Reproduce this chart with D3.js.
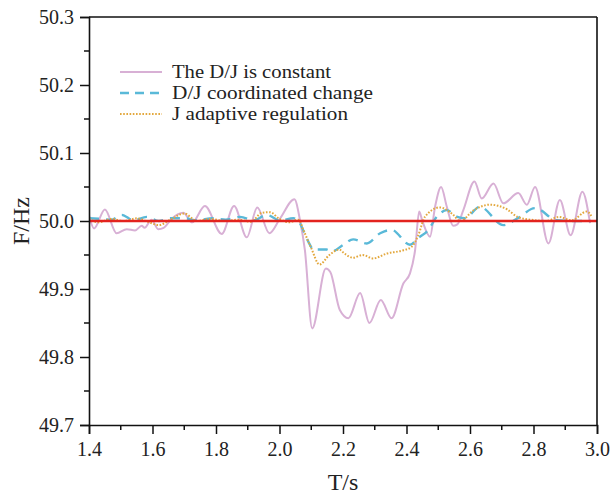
<!DOCTYPE html>
<html>
<head>
<meta charset="utf-8">
<script src="https://cdn.jsdelivr.net/npm/d3@7"></script>
<style>
html,body{margin:0;padding:0;background:#fff;}
svg{display:block;}
</style>
</head>
<body>
<svg id="chart" width="612" height="499"></svg>
<script>
// ---- data ----
const seriesNames = ["The D/J is constant", "D/J coordinated change", "J adaptive regulation"];
const xTicks = [1.4, 1.6, 1.8, 2.0, 2.2, 2.4, 2.6, 2.8, 3.0];
const yTicks = [49.7, 49.8, 49.9, 50.0, 50.1, 50.2, 50.3];
const referenceF = 50.0;

const constantT = [1.400,1.416,1.450,1.487,1.519,1.545,1.566,1.575,1.597,1.618,1.635,1.660,1.697,1.725,1.765,1.818,1.857,1.897,1.930,1.968,2.002,2.047,2.065,2.080,2.103,2.146,2.160,2.190,2.217,2.254,2.283,2.319,2.353,2.390,2.411,2.427,2.440,2.450,2.474,2.490,2.509,2.527,2.547,2.560,2.579,2.614,2.637,2.674,2.705,2.752,2.779,2.805,2.847,2.883,2.917,2.954,2.978];
const constantF = [50.008,49.989,50.017,49.982,49.988,49.986,49.993,49.990,50.002,49.988,49.990,50.003,50.012,49.998,50.022,49.981,50.022,49.976,50.020,49.982,50.004,50.032,50.000,49.957,49.842,49.930,49.925,49.869,49.857,49.894,49.850,49.884,49.857,49.908,49.923,49.957,50.014,50.000,49.977,50.021,50.050,50.021,49.993,49.995,50.016,50.058,50.033,50.055,50.026,50.041,50.024,50.050,49.967,50.031,49.979,50.043,49.997];

const coordT = [1.400,1.440,1.470,1.503,1.540,1.582,1.620,1.655,1.700,1.740,1.790,1.830,1.876,1.920,1.960,2.000,2.044,2.060,2.077,2.096,2.106,2.148,2.163,2.201,2.232,2.275,2.317,2.353,2.411,2.437,2.469,2.495,2.527,2.560,2.584,2.631,2.705,2.750,2.805,2.873,2.930,2.980];
const coordF = [50.004,50.003,50.002,50.009,50.001,50.006,50.000,50.004,50.004,50.001,50.004,50.002,50.006,50.001,50.009,50.001,50.004,50.000,49.984,49.965,49.958,49.958,49.955,49.965,49.973,49.967,49.982,49.987,49.965,49.975,49.987,50.006,50.016,50.006,50.004,50.021,49.994,50.004,50.019,50.001,50.000,50.000];

const adaptiveT = [1.400,1.430,1.470,1.510,1.550,1.590,1.620,1.660,1.700,1.740,1.780,1.830,1.870,1.910,1.944,1.970,2.000,2.030,2.060,2.075,2.100,2.126,2.157,2.188,2.205,2.231,2.262,2.295,2.337,2.390,2.416,2.437,2.458,2.505,2.545,2.569,2.612,2.663,2.717,2.750,2.790,2.840,2.880,2.920,2.968,2.985];
const adaptiveF = [50.004,49.998,50.003,50.000,50.004,49.998,49.994,50.003,50.011,50.000,50.003,50.000,50.002,49.999,50.012,50.013,50.003,49.998,50.002,49.987,49.960,49.936,49.950,49.958,49.952,49.946,49.950,49.945,49.952,49.957,49.962,49.979,50.006,50.020,50.010,50.000,50.016,50.024,50.017,50.006,50.002,50.000,50.006,50.001,50.014,50.005];

// ---- layout ----
const FONT = '"Liberation Serif", "Times New Roman", Times, serif';
const svg = d3.select("#chart");
const m = {left: 89, top: 17, right: 15, bottom: 74};
const W = 612, H = 499;
const iw = W - m.left - m.right, ih = H - m.top - m.bottom;

const x = d3.scaleLinear().domain([1.4, 3.0]).range([0, iw]);
const y = d3.scaleLinear().domain([49.7, 50.3]).range([ih, 0]);

const g = svg.append("g").attr("transform", `translate(${m.left},${m.top})`);

const zip = (ts, fs) => ts.map((t, i) => ({t, f: fs[i]}));
const line = d3.line().x(d => x(d.t)).y(d => y(d.f)).curve(d3.curveMonotoneX);

g.append("clipPath").attr("id", "clip").append("rect").attr("width", iw).attr("height", ih);
const plot = g.append("g").attr("clip-path", "url(#clip)");

const styles = [
  {color: "#d8b0d5", width: 2, dash: null},
  {color: "#5ab9d8", width: 2.4, dash: "10,7"},
  {color: "#e3a83e", width: 2, dash: "1.6,1.6"}
];
const data = [zip(constantT, constantF), zip(coordT, coordF), zip(adaptiveT, adaptiveF)];
data.forEach((d, i) => {
  plot.append("path").datum(d)
    .attr("fill", "none")
    .attr("stroke", styles[i].color)
    .attr("stroke-width", styles[i].width)
    .attr("stroke-dasharray", styles[i].dash)
    .attr("d", line);
});

// reference line
plot.append("path").datum([{t: 1.4, f: referenceF}, {t: 3.0, f: referenceF}])
  .attr("fill", "none").attr("stroke", "#e3231f").attr("stroke-width", 2.6)
  .attr("d", d3.line().x(d => x(d.t)).y(d => y(d.f)));

// ---- axes ----
const xMinor = d3.range(1.5, 3.0, 0.2);
const yMinor = d3.range(49.75, 50.3, 0.1);

const xAxis = d3.axisBottom(x).tickValues(xTicks).tickFormat(d3.format(".1f")).tickSizeOuter(0).tickSize(9).tickPadding(8);
const yAxis = d3.axisLeft(y).tickValues(yTicks).tickFormat(d3.format(".1f")).tickSizeOuter(0).tickSize(9).tickPadding(6);

const gx = g.append("g").attr("transform", `translate(0,${ih})`).call(xAxis);
const gy = g.append("g").call(yAxis);
[gx, gy].forEach(a => {
  a.attr("font-family", FONT);
  a.select(".domain").attr("stroke", "#111").attr("stroke-width", 1.6);
  a.selectAll(".tick line").attr("stroke", "#111").attr("stroke-width", 1.5);
  a.selectAll(".tick text").attr("font-size", 20).attr("fill", "#222").attr("font-family", FONT);
});

g.append("g").attr("transform", `translate(0,${ih})`).selectAll("line").data(xMinor).join("line")
  .attr("x1", d => x(d)).attr("x2", d => x(d)).attr("y1", 0).attr("y2", 5)
  .attr("stroke", "#111").attr("stroke-width", 1.5);
g.append("g").selectAll("line").data(yMinor).join("line")
  .attr("y1", d => y(d)).attr("y2", d => y(d)).attr("x1", 0).attr("x2", -5)
  .attr("stroke", "#111").attr("stroke-width", 1.5);

// box top & right
g.append("line").attr("x1", 0).attr("x2", iw).attr("y1", 0).attr("y2", 0).attr("stroke", "#111").attr("stroke-width", 1.6);
g.append("line").attr("x1", iw).attr("x2", iw).attr("y1", 0).attr("y2", ih).attr("stroke", "#111").attr("stroke-width", 1.6);

// axis titles
svg.append("text").attr("x", m.left + iw / 2).attr("y", 490).attr("text-anchor", "middle")
  .attr("font-family", FONT).attr("fill", "#222").attr("font-size", 24).text("T/s");
svg.append("text").attr("transform", `translate(29,${m.top + ih / 2}) rotate(-90)`).attr("text-anchor", "middle")
  .attr("font-family", FONT).attr("fill", "#222").attr("font-size", 24).text("F/Hz");

// legend
const leg = svg.append("g");
const legY = [72, 93, 114];
const legW = [159, 201, 176];
seriesNames.forEach((name, i) => {
  leg.append("line").attr("x1", 120).attr("x2", 162).attr("y1", legY[i]).attr("y2", legY[i])
    .attr("stroke", styles[i].color).attr("stroke-width", i === 1 ? 2.4 : 2)
    .attr("stroke-dasharray", i === 1 ? "9,6" : styles[i].dash);
  leg.append("text").attr("x", 172).attr("y", legY[i] + 6)
    .attr("font-family", FONT).attr("fill", "#222").attr("font-size", 18)
    .attr("textLength", legW[i]).attr("lengthAdjust", "spacingAndGlyphs")
    .text(name);
});
</script>
</body>
</html>
